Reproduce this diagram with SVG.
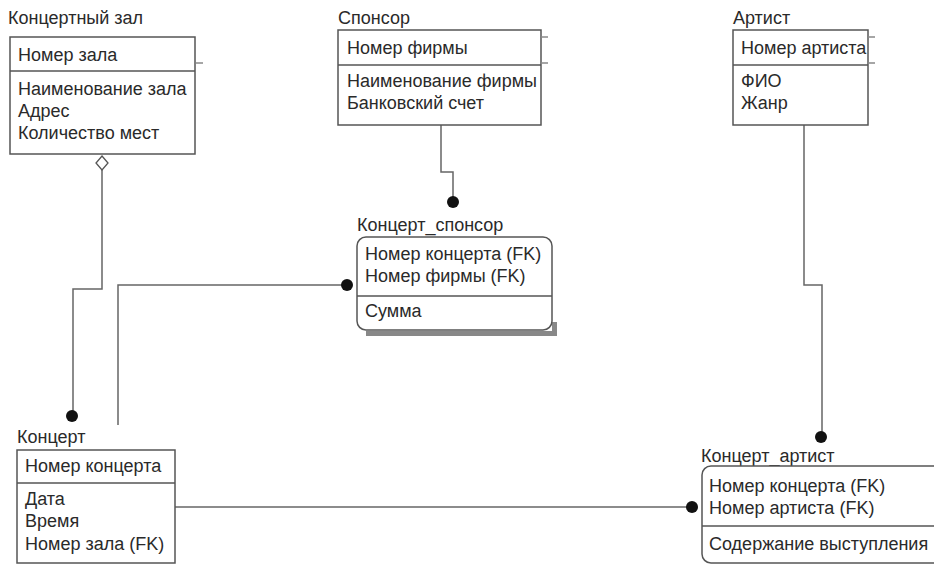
<svg xmlns="http://www.w3.org/2000/svg" width="934" height="566" viewBox="0 0 934 566">
<style>
text{font-family:"Liberation Sans",Arial,sans-serif;font-size:18px;fill:#2a2a2a}
.box{fill:#fff;stroke:#555;stroke-width:1.5}
.sep{stroke:#555;stroke-width:1.5}
.ln{fill:none;stroke:#666;stroke-width:1.5}
.dot{fill:#111}
.tick{stroke:#888;stroke-width:1.5}
</style>
<rect width="934" height="566" fill="#fff"/>
<g id="connectors">
<polyline class="ln" points="102,170 102,289 73,289 73,412"/>
<path d="M102,156 L108,163 L102,170 L96,163 Z" fill="#fff" stroke="#555" stroke-width="1.3"/>
<circle class="dot" cx="72" cy="416" r="6"/>
<polyline class="ln" points="118,425 118,285 343,285"/>
<circle class="dot" cx="347" cy="285" r="6"/>
<polyline class="ln" points="441,125 441,172 453,172 453,198"/>
<circle class="dot" cx="453" cy="202" r="6"/>
<polyline class="ln" points="804,125 804,285 822,285 822,432"/>
<circle class="dot" cx="821" cy="437" r="6"/>
<line class="ln" x1="175" y1="507" x2="688" y2="507"/>
<circle class="dot" cx="692" cy="507" r="6"/>
</g>
<g id="hall">
<text x="8" y="24">Концертный зал</text>
<rect class="box" x="10" y="37" width="185" height="117"/>
<line class="sep" x1="10" y1="71" x2="195" y2="71"/>
<text x="18" y="61">Номер зала</text>
<text x="18" y="95">Наименование зала</text>
<text x="18" y="117">Адрес</text>
<text x="18" y="139">Количество мест</text>
<line class="tick" x1="196" y1="63" x2="203" y2="63"/>
</g>
<g id="sponsor">
<text x="338" y="24">Спонсор</text>
<rect class="box" x="338" y="30" width="203" height="95"/>
<line class="sep" x1="338" y1="65" x2="541" y2="65"/>
<text x="347" y="54">Номер фирмы</text>
<text x="347" y="87">Наименование фирмы</text>
<text x="347" y="109">Банковский счет</text>
<line class="tick" x1="541" y1="37" x2="548" y2="37"/>
<line class="tick" x1="541" y1="63" x2="548" y2="63"/>
</g>
<g id="artist">
<text x="733" y="24">Артист</text>
<rect class="box" x="733" y="30" width="135" height="95"/>
<line class="sep" x1="733" y1="65" x2="868" y2="65"/>
<text x="741" y="54">Номер артиста</text>
<text x="741" y="87">ФИО</text>
<text x="741" y="109">Жанр</text>
<line class="tick" x1="868" y1="37" x2="875" y2="37"/>
<line class="tick" x1="868" y1="63" x2="875" y2="63"/>
</g>
<g id="concert_sponsor">
<text x="357" y="231">Концерт_спонсор</text>
<path d="M366,331 H554 V336 H366 Z M552,322 h5 v14 h-5 Z" fill="#888"/>
<rect class="box" x="357" y="237" width="195" height="93" rx="9"/>
<line class="sep" x1="357" y1="296" x2="552" y2="296"/>
<text x="365" y="260">Номер концерта (FK)</text>
<text x="365" y="282">Номер фирмы (FK)</text>
<text x="365" y="317">Сумма</text>
</g>
<g id="concert">
<text x="17" y="443">Концерт</text>
<rect class="box" x="17" y="450" width="158" height="113"/>
<line class="sep" x1="17" y1="483" x2="175" y2="483"/>
<text x="25" y="472">Номер концерта</text>
<text x="25" y="505">Дата</text>
<text x="25" y="527">Время</text>
<text x="25" y="550">Номер зала (FK)</text>
</g>
<g id="concert_artist">
<text x="701" y="462">Концерт_артист</text>
<rect class="box" x="702" y="466" width="240" height="97" rx="9"/>
<line class="sep" x1="702" y1="526" x2="934" y2="526"/>
<text x="709" y="492">Номер концерта (FK)</text>
<text x="709" y="514">Номер артиста (FK)</text>
<text x="709" y="550">Содержание выступления</text>
</g>
</svg>
